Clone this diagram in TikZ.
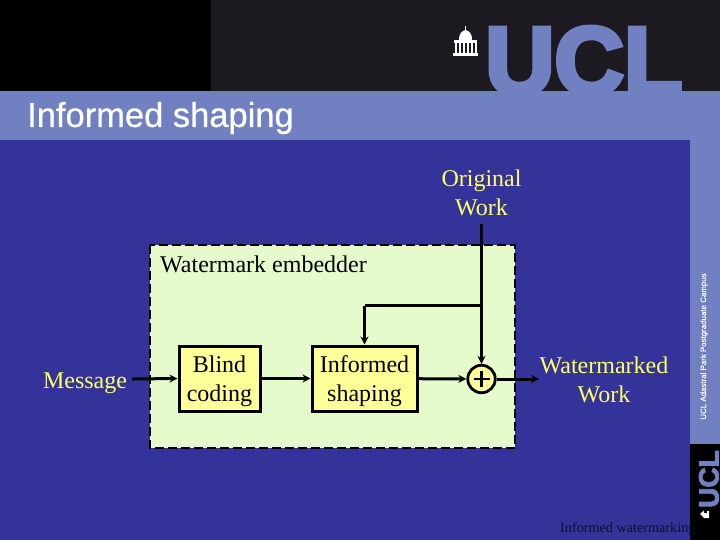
\documentclass[tikz,border=0pt]{standalone}
\usepackage{fontspec}
\setmainfont{Liberation Serif}
\newfontfamily\titlefont[FakeBold=0.6]{Liberation Sans}
\newfontfamily\stripfont[FakeBold=0.3]{Liberation Sans}
\newfontfamily\uclfont[FakeBold=5]{Liberation Sans Bold}
\newfontfamily\smallucl[FakeBold=3]{Liberation Sans Bold}
\usetikzlibrary{arrows.meta, positioning}
\definecolor{bodyblue}{HTML}{333399}
\definecolor{bandblue}{HTML}{7080C0}
\definecolor{darktop}{HTML}{1C1A20}
\definecolor{boxyellow}{HTML}{FFFF99}
\definecolor{embgreen}{HTML}{E6FBCC}
\definecolor{labelyellow}{HTML}{FFFF66}
\newcommand{\blkline}[1]{\raisebox{-8pt}[0pt][0pt]{#1}}
\tikzset{
  lbl/.style    ={font=\fontsize{24}{29}\selectfont, align=center, inner sep=0pt},
  block/.style  ={draw, fill=boxyellow, line width=3pt, inner sep=0pt, align=center, font=\fontsize{24}{29}\selectfont},
  sumnode/.style={draw, circle, fill=boxyellow, line width=2.8pt, minimum size=27.5pt, inner sep=0pt},
  conn/.style   ={-{Stealth[length=8pt,width=8pt]}, line width=3pt},
}
\begin{document}
\begin{tikzpicture}[x=1pt, y=-1pt]
  \useasboundingbox (0,0) rectangle (720,540);
  % backdrop
  \fill[bodyblue] (0,0) rectangle (720,540);
  \fill[darktop] (0,0) rectangle (720,91);
  \fill[black] (0,0) rectangle (211,91);
  \node[anchor=base west, inner sep=0pt, text=bandblue, font=\uclfont\fontsize{96}{96}\selectfont] (ucl) at (485,94) {UCL};
  \fill[bandblue] (0,91) rectangle (720,140);
  \fill[bandblue] (690,140) rectangle (720,444);
  \fill[black] (690,444) rectangle (720,540);
  \node[anchor=west, inner sep=0pt, text=white, font=\titlefont\fontsize{34.5}{35}\selectfont] (title) at (27,118) {Informed shaping};
  % college dome
  \fill[white] (453,53) rectangle (478,56);
  \fill[white] (454,40) rectangle (477,43);
  \foreach \cx in {455,459,463,467,471,474.5}
    \fill[white] (\cx,43) rectangle ++(2.4,10);
  \fill[white] (459,40) .. controls (459,33) and (462,31) .. (465.5,30) .. controls (469,31) and (472,33) .. (472,40) -- cycle;
  \fill[white] (465,26) rectangle (466.2,31);
  % side strip
  \node[rotate=90, inner sep=0pt, text=white, font=\stripfont\fontsize{7.9}{8}\selectfont] (campus) at (704,346.5) {UCL Adastral Park Postgraduate Campus};
  \node[rotate=90, anchor=base west, inner sep=0pt, text=bandblue, font=\smallucl\fontsize{28}{28}\selectfont] (uclside) at (718.5,508) {UCL};
  \fill[white] (700,514) -- (704,510.5) -- (704,513) -- (707,513) -- (707,511) -- (709,511) -- (709,518) -- (704,518) -- cycle;
  % embedder
  \draw[fill=embgreen, line width=2.8pt, dash pattern=on 9pt off 4pt] (150,245) rectangle (515,448);
  \node[lbl, anchor=west, text=black] (embedder) at (160,264) {Watermark embedder};
  \node[block, minimum width=81pt, minimum height=65pt] (blind) at (219.5,378.5) {\blkline{Blind}\\\blkline{coding}};
  \node[block, minimum width=105pt, minimum height=65pt] (shaping) at (364.5,378.5) {\blkline{Informed}\\\blkline{shaping}};
  \node[sumnode] (sum) at (481.5,379) {};
  \draw[line width=2.8pt] (sum.center) ++(-8,0) -- ++(16,0) (sum.center) ++(0,-8) -- ++(0,16);
  \node[lbl, text=labelyellow] (message) at (85,383) {Message};
  \node[lbl, text=labelyellow] (original) at (481.5,192.5) {Original\\Work};
  \node[lbl, text=labelyellow] (marked) at (604,380) {Watermarked\\Work};
  \node[anchor=base west, inner sep=0pt, text=black!70!bodyblue, font=\fontsize{14.2}{14}\selectfont] (footer) at (560,532) {Informed watermarking};
  % connectors
  \coordinate (msgend) at (132,379);
  \coordinate (orig) at (481.5,224);
  \coordinate (tap) at (481.5,305.5);
  \coordinate (tapleft) at (364.5,305.5);
  \coordinate (outend) at (539,379);
  \draw[conn] (msgend) -- (blind.west);
  \draw[conn] (blind) -- (shaping);
  \draw[conn] (shaping) -- (sum);
  \draw[conn] (orig) -- (sum);
  \draw[line width=3pt] (tap) -- (tapleft);
  \draw[conn] (tapleft) -- (shaping);
  \draw[conn] (sum) -- (outend);
\end{tikzpicture}
\end{document}
